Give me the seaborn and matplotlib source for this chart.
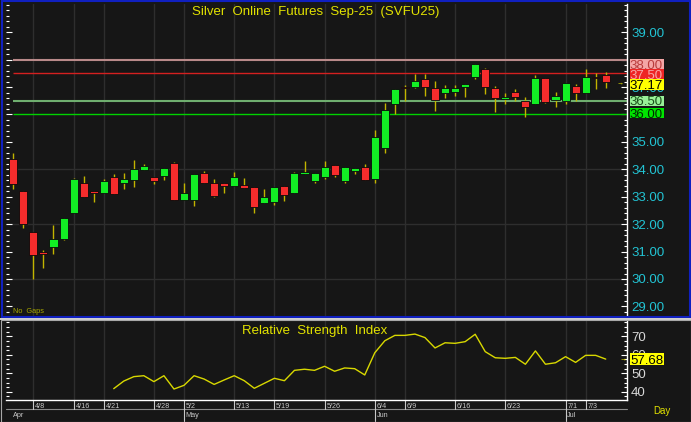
import numpy as np
import pandas as pd
import matplotlib
matplotlib.use("Agg")
import matplotlib.pyplot as plt
import matplotlib.transforms as mtransforms
from matplotlib.transforms import offset_copy
from matplotlib.patches import Rectangle
from matplotlib.ticker import FixedLocator, MultipleLocator, FuncFormatter
import seaborn as sns

# ---------------- data ----------------
opens = [34.38, 33.21, 31.71, 30.97, 31.18, 31.45, 32.40, 33.49, 33.21, 33.12,
         33.72, 33.49, 33.61, 33.99, 33.71, 33.76, 34.22, 32.88, 32.88, 33.85,
         33.51, 33.49, 33.39, 33.42, 33.34, 32.78, 32.80, 33.38, 33.15, 33.82,
         33.57, 33.73, 34.15, 33.58, 33.95, 34.07, 33.66, 34.79, 36.38, 37.00,
         36.99, 37.30, 36.95, 36.79, 36.83, 36.99, 37.35, 37.65, 36.95, 36.56,
         36.81, 36.49, 36.38, 37.32, 36.52, 36.50, 37.05, 36.79, 37.38, 37.44]
highs = [34.58, 33.21, 31.71, 31.06, 31.97, 32.22, 33.68, 33.77, 33.21, 33.65,
         33.82, 33.85, 34.34, 34.19, 33.71, 34.04, 34.27, 33.49, 33.82, 33.95,
         33.64, 33.49, 33.91, 33.67, 33.34, 33.27, 33.34, 33.38, 33.90, 34.31,
         33.88, 34.31, 34.15, 34.07, 34.04, 34.19, 35.42, 36.41, 36.93, 37.07,
         37.47, 37.47, 37.22, 37.07, 37.07, 37.11, 37.84, 37.70, 37.05, 36.77,
         36.93, 36.64, 37.44, 37.32, 36.83, 37.15, 37.10, 37.66, 37.50, 37.56]
lows = [33.28, 31.85, 30.00, 30.39, 30.91, 31.42, 32.40, 32.99, 32.82, 33.12,
        33.09, 33.28, 33.37, 33.99, 33.45, 33.61, 32.88, 32.88, 32.66, 33.51,
        32.98, 33.13, 33.39, 33.33, 32.40, 32.78, 32.70, 32.86, 33.15, 33.82,
        33.49, 33.66, 33.73, 33.51, 33.82, 33.62, 33.51, 34.58, 36.01, 36.50,
        36.95, 36.68, 36.14, 36.59, 36.68, 36.65, 37.29, 36.73, 36.08, 36.38,
        36.50, 35.92, 36.38, 36.43, 36.28, 36.38, 36.50, 36.79, 36.92, 36.95]
closes = [33.45, 32.00, 30.86, 30.91, 31.46, 32.22, 33.65, 32.99, 33.12, 33.58,
          33.09, 33.65, 34.01, 34.12, 33.56, 34.04, 32.88, 33.15, 33.82, 33.51,
          33.03, 33.40, 33.71, 33.33, 32.64, 32.98, 33.34, 33.06, 33.85, 33.90,
          33.88, 34.07, 33.79, 34.07, 34.04, 33.62, 35.18, 36.16, 36.93, 36.95,
          37.22, 37.01, 36.53, 36.97, 36.97, 37.11, 37.84, 37.01, 36.61, 36.65,
          36.65, 36.28, 37.34, 36.46, 36.68, 37.15, 36.79, 37.35, 37.32, 37.17]
rsi = [np.nan] * 10 + [
    41.7, 45.8, 48.2, 48.7, 45.5, 48.7, 41.5, 43.5, 48.7, 46.9,
    44.0, 46.4, 48.7, 46.0, 41.9, 44.6, 47.3, 46.0, 51.6, 52.2,
    51.6, 53.8, 51.1, 52.9, 52.5, 49.1, 61.1, 67.6, 70.5, 70.5,
    71.2, 69.3, 63.7, 66.5, 66.2, 67.1, 71.1, 61.7, 58.4, 58.1,
    58.6, 54.9, 62.1, 54.9, 55.7, 59.0, 55.9, 59.7, 59.7, 57.68]

tick_idx = [2, 6, 9, 14, 17, 22, 26, 31, 36, 39, 44, 49, 55, 57]
tick_labels = ['4/8', '4/16', '4/21', '4/28', '5/2', '5/13', '5/19', '5/26',
               '6/4', '6/9', '6/16', '6/23', '7/1', '7/3']
month_idx = [0, 17, 36, 55]
month_labels = ['Apr', 'May', 'Jun', 'Jul']

price_ticks = list(range(29, 40))
price_ticks_hidden = [36, 38]
rsi_ticks = [40, 50, 60, 70]

levels = [38.00, 37.50, 36.50, 36.00]
level_line_colors = ['#b98a8a', '#d42020', '#6fae6f', '#00d200']
level_line_widths = [1.5, 1.0, 1.5, 1.0]
level_box_bg = ['#f4a6a6', '#ee2424', '#98f098', '#00e400']
level_box_fg = ['#b83c3c', '#f6a8a8', '#1a4f1a', '#002a00']
level_box_dy = [-4.6, -0.9, 0.0, 1.1]   # pixel shift of label boxes

title = 'Silver  Online  Futures  Sep-25  (SVFU25)'
rsi_title = 'Relative  Strength  Index'

# ---------------- style ----------------
W, H = 691, 422
BG = '#161616'
RED = '#f52c2c'
GREEN = '#12ee24'
WICK = '#c2b400'
YEL = '#e2e200'
CYAN = '#22c4d4'
GRID = '#2e2e2e'

sns.set_theme(style='dark')
plt.rcParams['font.family'] = ['Liberation Sans', 'DejaVu Sans']
plt.rcParams['axes.facecolor'] = BG
plt.rcParams['figure.facecolor'] = BG

fig = plt.figure(figsize=(W / 100, H / 100), dpi=100, facecolor=BG)


def frac_rect(x0, y0, x1, y1):
    return [x0 / W, 1 - y1 / H, (x1 - x0) / W, (y1 - y0) / H]


AX_W_PX = 621
ax = fig.add_axes(frac_rect(6, 4, 627, 316))
ax_r = fig.add_axes(frac_rect(6, 320, 627, 400))

n = len(closes)
idx = np.arange(n)
XL = (-0.73, 61.12)
for a in (ax, ax_r):
    a.set_facecolor(BG)
    a.set_xlim(*XL)
    for s in ['top', 'left', 'bottom']:
        a.spines[s].set_visible(False)
    a.spines['right'].set_color('white')
    a.spines['right'].set_linewidth(1.0)
    for t in tick_idx:
        a.axvline(t, color=GRID, lw=1.0, zorder=0)
    a.tick_params(axis='x', bottom=False, labelbottom=False)
ax_r.spines['bottom'].set_visible(True)
ax_r.spines['bottom'].set_color('white')
ax_r.spines['bottom'].set_linewidth(1.0)


def value_box(a, yval, text, bg, fg, dy_px, h_px, px_per_unit, z=6):
    base = mtransforms.blended_transform_factory(a.transAxes, a.transData)
    w_px = 34
    h_data = h_px / px_per_unit
    rect = Rectangle((1.0, yval - h_data / 2), w_px / AX_W_PX, h_data,
                     transform=offset_copy(base, fig=fig, x=2.5, y=dy_px,
                                           units='dots'),
                     fc=bg, ec='none', clip_on=False, zorder=z)
    a.add_patch(rect)
    a.text(1.0, yval, text,
           transform=offset_copy(base, fig=fig, x=2.5 + w_px / 2,
                                 y=dy_px - 4.6, units='dots'),
           ha='center', va='baseline', fontsize=9.5, color=fg,
           zorder=z + 0.5, clip_on=False)


# ---------------- price panel ----------------
YL = (28.65, 40.03)
ax.set_ylim(*YL)
ppu = 312 / (YL[1] - YL[0])
for p in [30, 32, 34]:
    ax.axhline(p, color=GRID, lw=1.0, zorder=0)

ax.hlines(levels, 0, XL[1], colors=level_line_colors,
          linewidths=level_line_widths, zorder=1)

o = np.array(opens); c = np.array(closes)
h = np.array(highs); l = np.array(lows)
up = c >= o
colors = np.where(up, GREEN, RED)
ax.vlines(idx, l, h, color=WICK, lw=1.0, zorder=2)
bottoms = np.minimum(o, c)
heights = np.maximum(np.abs(c - o), 0.05)
ax.bar(idx, heights, bottom=bottoms, width=0.8, color=colors,
       edgecolor='#0a0a0a', linewidth=0.6, zorder=3)

ax.yaxis.set_major_locator(FixedLocator(price_ticks))
ax.yaxis.set_minor_locator(MultipleLocator(0.2))
ax.yaxis.set_major_formatter(FuncFormatter(
    lambda v, p: '' if round(v) in price_ticks_hidden else f'{v:.2f}'))
ax.tick_params(axis='y', which='both', left=True, right=True,
               labelleft=False, labelright=True, direction='in',
               color='white', labelcolor=CYAN, labelsize=9.5, pad=3)
ax.tick_params(axis='y', which='major', length=4.5, width=0.8)
ax.tick_params(axis='y', which='minor', length=2.5, width=0.8)

ax.text(0.499, 0.974, title, transform=ax.transAxes, ha='center',
        va='center', color=YEL, fontsize=9.5)
ax.text(0.011, 0.016, 'No  Gaps', transform=ax.transAxes, ha='left',
        va='center', color='#a8a800', fontsize=5.3)

for lv, bg, fg, dy in zip(levels, level_box_bg, level_box_fg, level_box_dy):
    value_box(ax, lv, f'{lv:.2f}', bg, fg, dy, 10.2, ppu)
value_box(ax, closes[-1], f'{closes[-1]:.2f}', '#ffff00', 'black', -2.1,
          10.2, ppu, z=7)
ax.annotate('→', xy=(n - 1, closes[-1]), xytext=(8, -0.5),
            textcoords='offset points', ha='left', va='center',
            fontsize=5, color=YEL, annotation_clip=False)

# ---------------- RSI panel ----------------
RL = (35.57, 78.81)
ax_r.set_ylim(*RL)
rpu = 80 / (RL[1] - RL[0])
df_r = pd.DataFrame({'i': idx, 'rsi': rsi}).dropna()
sns.lineplot(data=df_r, x='i', y='rsi', ax=ax_r, color='#d8d800', lw=1.0,
             zorder=3)
ax_r.set_xlabel('')
ax_r.set_ylabel('')
ax_r.set_xlim(*XL)
ax_r.yaxis.set_major_locator(FixedLocator(rsi_ticks))
ax_r.yaxis.set_minor_locator(MultipleLocator(2.5))
ax_r.tick_params(axis='y', which='both', left=True, right=True,
                 labelleft=False, labelright=True, direction='in',
                 color='white', labelcolor='#d8d8d8', labelsize=9.5, pad=3)
ax_r.tick_params(axis='y', which='major', length=4.5, width=0.8)
ax_r.tick_params(axis='y', which='minor', length=2.5, width=0.8)
ax_r.text(0.497, 0.86, rsi_title, transform=ax_r.transAxes, ha='center',
          va='center', color=YEL, fontsize=9.5)
value_box(ax_r, rsi[-1], f'{rsi[-1]:.2f}', '#ffff00', 'black', 0, 12.5,
          rpu, z=7)
ax_r.annotate('→', xy=(n - 1, rsi[-1]), xytext=(10, 0),
              textcoords='offset points', ha='left', va='center',
              fontsize=5, color=YEL, annotation_clip=False)

# date axis
tr = mtransforms.blended_transform_factory(ax_r.transData, ax_r.transAxes)
row1 = -9 / 80
row2 = -21 / 80
ax_r.plot([0, 1], [row1, row1], transform=ax_r.transAxes, color='#8a8a8a',
          lw=0.8, clip_on=False)
for t, lab in zip(tick_idx, tick_labels):
    ax_r.plot([t, t], [0, row1], transform=tr, color='#c8c8c8', lw=0.8,
              clip_on=False)
    ax_r.annotate(lab, xy=(t, -0.075), xycoords=tr, xytext=(1.3, 0),
                  textcoords='offset points', ha='left', va='center',
                  fontsize=5.2, color='#c8c8c8', annotation_clip=False)
for m, lab in zip(month_idx, month_labels):
    if m > 0:
        ax_r.plot([m, m], [row1, row2], transform=tr, color='#c8c8c8',
                  lw=0.8, clip_on=False)
    ax_r.annotate(lab, xy=(m, -0.195), xycoords=tr,
                  xytext=(1.3 if m > 0 else 0, 0), textcoords='offset points',
                  ha='left', va='center', fontsize=5.2, color='#c8c8c8',
                  annotation_clip=False)
fig.text(662 / W, 1 - 411 / H, 'Day', ha='center', va='center', color=YEL,
         fontsize=7)

# frames
fig.patches.append(Rectangle((1.5 / W, 1 - 317 / H), 688 / W, 316 / H,
                             transform=fig.transFigure, fill=False,
                             ec='#1020c0', lw=1.5, zorder=10))
fig.patches.append(Rectangle((0, 1 - 320 / H), 1, 2 / H,
                             transform=fig.transFigure, fill=True,
                             fc='#cfcfcf', ec='none', zorder=10))
fig.patches.append(Rectangle((0.5 / W, 0.5 / H), 690 / W, (101.5) / H,
                             transform=fig.transFigure, fill=False,
                             ec='#a8a8a8', lw=0.8, zorder=10))

fig.savefig('out.png', dpi=100, facecolor=BG)
